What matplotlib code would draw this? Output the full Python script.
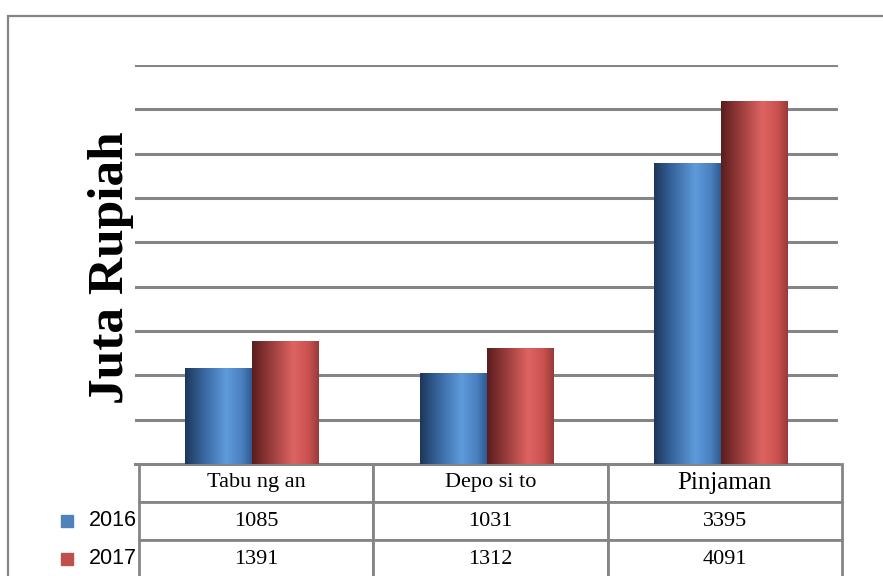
import numpy as np
import matplotlib.pyplot as plt
from matplotlib.colors import LinearSegmentedColormap
from matplotlib.patches import Rectangle

categories = ['Tabungan', 'Deposito', 'Pinjaman']
header_labels = ['Tabu ng an', 'Depo si to', 'Pinjaman']
years = ['2016', '2017']
values_2016 = [1085, 1031, 3395]
values_2017 = [1391, 1312, 4091]

series = [values_2016, values_2017]
legend_colors = ['#4f81bd', '#c0504d']
# cylinder-ish shading, dark on the left, light past the middle
cmaps = [
    LinearSegmentedColormap.from_list('blue_shade', [
        (0.0, '#1d3659'), (0.25, '#35629a'), (0.62, '#5e9bdb'),
        (0.85, '#4b80c0'), (1.0, '#2e5a90')]),
    LinearSegmentedColormap.from_list('red_shade', [
        (0.0, '#5a1d1d'), (0.25, '#923838'), (0.62, '#de6462'),
        (0.85, '#c9514f'), (1.0, '#983a39')]),
]

GRID = '#858585'
fig = plt.figure(figsize=(8.83, 5.76), dpi=100)
ax = fig.add_axes([135 / 883, 1 - 464 / 576, 703 / 883, 399 / 576])

x = np.arange(len(categories))
w = 0.285
grad = np.linspace(0, 1, 256).reshape(1, -1)
for i, vals in enumerate(series):
    bars = ax.bar(x + (i - 0.5) * w, vals, w, color='none', edgecolor='none', zorder=3)
    for b in bars:
        x0, y0 = b.get_x(), b.get_y()
        im = ax.imshow(grad, cmap=cmaps[i], aspect='auto', zorder=3,
                       extent=[x0, x0 + b.get_width(), y0, y0 + b.get_height()])
        im.set_clip_path(b)

ax.set_xlim(-0.5, len(categories) - 0.5)
ax.set_ylim(0, 4500)
ax.set_yticks(np.arange(500, 4501, 500))
ax.yaxis.grid(True, color=GRID, linewidth=2.2)
ax.set_axisbelow(True)
ax.tick_params(left=False, bottom=False, labelleft=False, labelbottom=False)
for s in ['top', 'right', 'left']:
    ax.spines[s].set_visible(False)
ax.spines['bottom'].set_color(GRID)
ax.spines['bottom'].set_linewidth(2.2)

# data table under the plot
tbl_h = 114 / 399
cell_text = [header_labels] + [[str(v) for v in vals] for vals in series]
tbl = ax.table(cellText=cell_text, cellLoc='center',
               bbox=[4 / 703, -tbl_h, 1.0, tbl_h])
tbl.auto_set_font_size(False)
for (r, c), cell in tbl.get_celld().items():
    cell.set_edgecolor(GRID)
    cell.set_linewidth(2.0)
    t = cell.get_text()
    t.set_fontfamily('Liberation Serif')
    if r == 0:
        t.set_fontsize(18 if c == 2 else 16)
    else:
        t.set_fontsize(16)

row_h = tbl_h / 3
for i, yr in enumerate(years):
    yc = -row_h * (i + 1.5)
    ax.text(0.003, yc, yr, transform=ax.transAxes, ha='right', va='center',
            fontsize=15.5, family='Liberation Sans', clip_on=False)
    ax.plot([-0.0967], [yc], marker='s', markersize=8, color=legend_colors[i],
            transform=ax.transAxes, clip_on=False)

fig.text(111 / 883, 1 - 268 / 576, 'Juta Rupiah', rotation=90, ha='center', va='center',
         fontsize=37, fontweight='bold', family='Liberation Serif')

# outer chart frame
fig.patches.append(Rectangle((8 / 883, -0.1), 1.2, 0.1 + 1 - 16 / 576, transform=fig.transFigure,
                             fill=False, edgecolor='#858585', linewidth=1.6))

fig.savefig('out.png', dpi=100)
